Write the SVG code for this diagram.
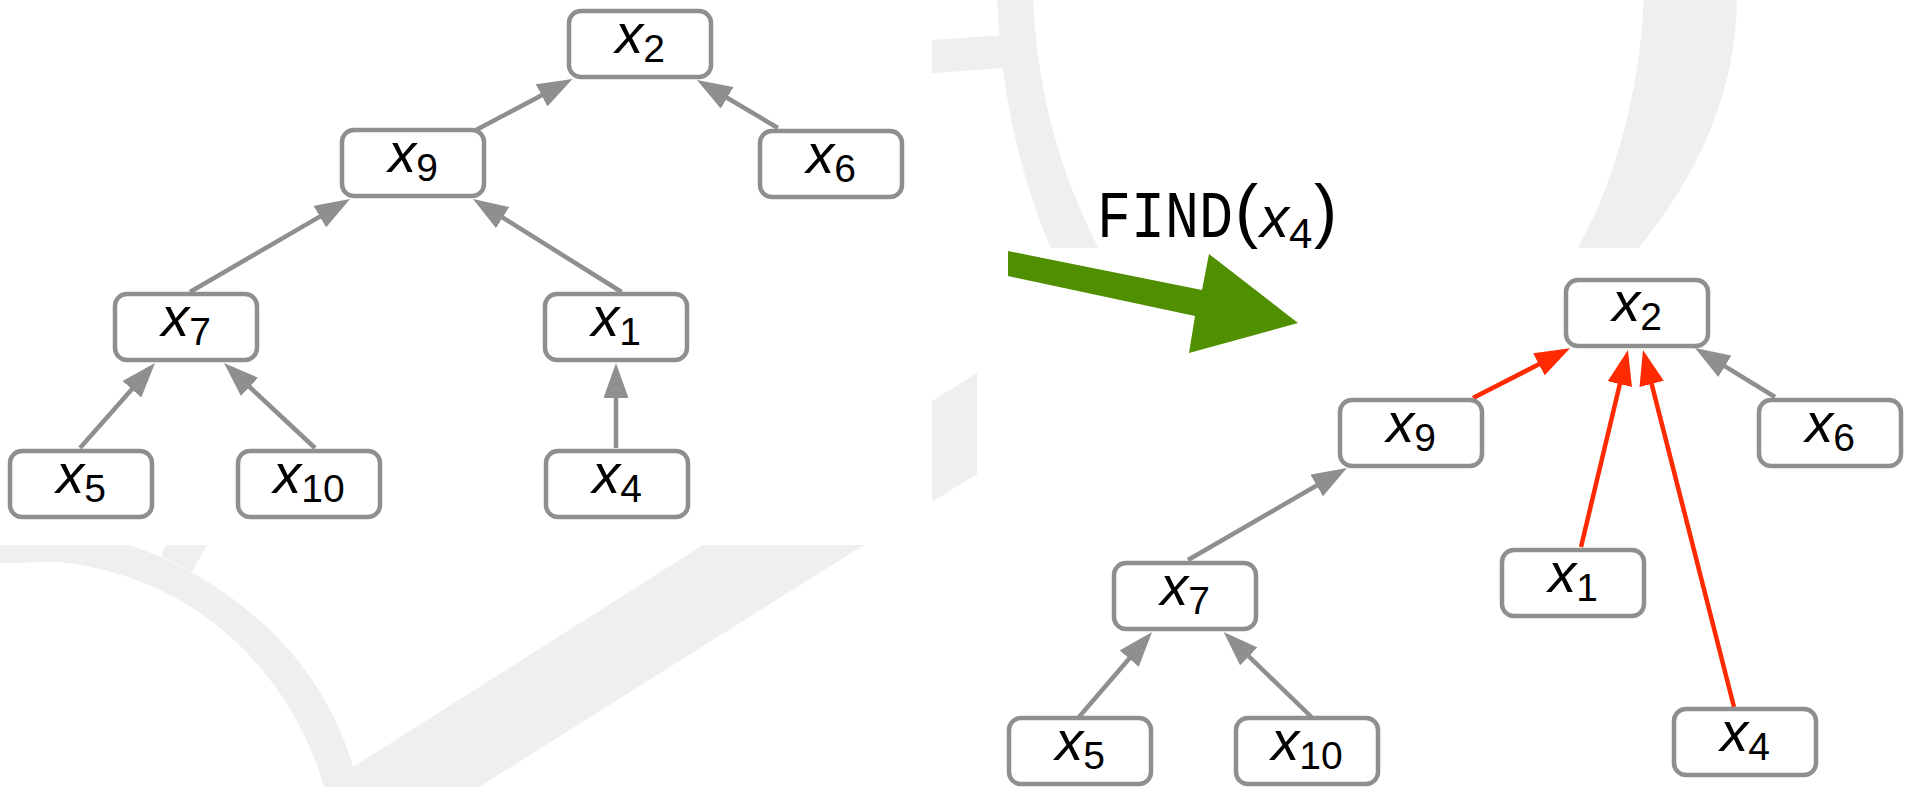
<svg xmlns="http://www.w3.org/2000/svg" width="1911" height="787" viewBox="0 0 1911 787">
<defs>
<style>
.wm{fill:#f0eeef;stroke:none}
.bg{fill:#ffffff;stroke:none}
.box{fill:#ffffff;stroke:#8f8f8f;stroke-width:4.5}
.e{fill:none;stroke:#8f8f8f;stroke-width:4.5}
.er{fill:none;stroke:#ff2a00;stroke-width:4.5}
.lbl{font-family:"Liberation Sans",Arial,sans-serif;font-size:56px;fill:#000;text-anchor:middle}
.v{font-style:italic}
.s{font-size:39px;font-style:normal}
</style>
<marker id="ag" markerUnits="userSpaceOnUse" viewBox="0 0 35 25" markerWidth="35" markerHeight="25" refX="5" refY="12.5" orient="auto"><path d="M0,0 L35,12.5 L0,25 Z" fill="#8f8f8f"/></marker>
<marker id="ar" markerUnits="userSpaceOnUse" viewBox="0 0 35 25" markerWidth="35" markerHeight="25" refX="5" refY="12.5" orient="auto"><path d="M0,0 L35,12.5 L0,25 Z" fill="#ff2a00"/></marker>
</defs>
<rect x="0" y="0" width="1911" height="787" fill="#ffffff"/>
<g id="watermark">
<path class="wm" d="M0,545 L129,545 C220,575 320,650 353,767 L703,545 L864,545 L479,787 L324,787 C300,700 220,580 60,562 L0,563 Z"/>
<path class="wm" d="M166,545 L207,545 L192,572 L161,556 Z"/>
<path class="wm" fill-rule="evenodd" d="M997,-5 C1000,80 1015,170 1060,270 L1620,270 C1700,180 1737,90 1737,-5 Z M1033,-5 C1036,80 1055,170 1110,270 L1565,270 C1610,200 1640,100 1644,-5 Z"/>
<path class="wm" d="M932,40 L1005,35 L1005,68 L932,73 Z"/>
<path class="wm" d="M932,401 L977,373 L977,474 L932,502 Z"/>
</g>
<rect class="bg" x="0" y="0" width="932" height="545"/>
<rect class="bg" x="977" y="248" width="934" height="539"/>
<g id="connectors">
<line class="e" x1="476" y1="130" x2="546" y2="93" marker-end="url(#ag)"/>
<line class="e" x1="778" y1="128" x2="722.8" y2="95.3" marker-end="url(#ag)"/>
<line class="e" x1="190" y1="292" x2="324.1" y2="214.1" marker-end="url(#ag)"/>
<line class="e" x1="621.6" y1="292" x2="498.4" y2="214.9" marker-end="url(#ag)"/>
<line class="e" x1="80" y1="448" x2="135.2" y2="385.5" marker-end="url(#ag)"/>
<line class="e" x1="315" y1="448" x2="245.9" y2="383.5" marker-end="url(#ag)"/>
<line class="e" x1="616" y1="448" x2="616" y2="393" marker-end="url(#ag)"/>
<line class="er" x1="1473" y1="398" x2="1543.3" y2="362" marker-end="url(#ar)"/>
<line class="er" x1="1581" y1="547" x2="1621" y2="379.2" marker-end="url(#ar)"/>
<line class="er" x1="1734" y1="707" x2="1650.4" y2="379.1" marker-end="url(#ar)"/>
<line class="e" x1="1775" y1="397" x2="1720.6" y2="363.7" marker-end="url(#ag)"/>
<line class="e" x1="1188" y1="560" x2="1321" y2="483" marker-end="url(#ag)"/>
<line class="e" x1="1079" y1="717" x2="1132.5" y2="654.8" marker-end="url(#ag)"/>
<line class="e" x1="1311.5" y1="717" x2="1245.2" y2="652.9" marker-end="url(#ag)"/>
</g>
<g id="L-x2"><rect class="box" x="569" y="11" width="142" height="66" rx="12"/><text class="lbl" x="640" y="52.5"><tspan class="v">x</tspan><tspan class="s" dy="9">2</tspan></text></g>
<g id="L-x9"><rect class="box" x="342" y="130" width="142" height="66" rx="12"/><text class="lbl" x="413" y="171.5"><tspan class="v">x</tspan><tspan class="s" dy="9">9</tspan></text></g>
<g id="L-x6"><rect class="box" x="760" y="131" width="142" height="66" rx="12"/><text class="lbl" x="831" y="172.5"><tspan class="v">x</tspan><tspan class="s" dy="9">6</tspan></text></g>
<g id="L-x7"><rect class="box" x="115" y="294" width="142" height="66" rx="12"/><text class="lbl" x="186" y="335.5"><tspan class="v">x</tspan><tspan class="s" dy="9">7</tspan></text></g>
<g id="L-x1"><rect class="box" x="545" y="294" width="142" height="66" rx="12"/><text class="lbl" x="616" y="335.5"><tspan class="v">x</tspan><tspan class="s" dy="9">1</tspan></text></g>
<g id="L-x5"><rect class="box" x="10" y="451" width="142" height="66" rx="12"/><text class="lbl" x="81" y="492.5"><tspan class="v">x</tspan><tspan class="s" dy="9">5</tspan></text></g>
<g id="L-x10"><rect class="box" x="238" y="451" width="142" height="66" rx="12"/><text class="lbl" x="309" y="492.5"><tspan class="v">x</tspan><tspan class="s" dy="9">10</tspan></text></g>
<g id="L-x4"><rect class="box" x="546" y="451" width="142" height="66" rx="12"/><text class="lbl" x="617" y="492.5"><tspan class="v">x</tspan><tspan class="s" dy="9">4</tspan></text></g>
<g id="R-x2"><rect class="box" x="1566" y="280" width="142" height="66" rx="12"/><text class="lbl" x="1637" y="321"><tspan class="v">x</tspan><tspan class="s" dy="9">2</tspan></text></g>
<g id="R-x9"><rect class="box" x="1340" y="400" width="142" height="66" rx="12"/><text class="lbl" x="1411" y="441.5"><tspan class="v">x</tspan><tspan class="s" dy="9">9</tspan></text></g>
<g id="R-x6"><rect class="box" x="1759" y="400" width="142" height="66" rx="12"/><text class="lbl" x="1830" y="441.5"><tspan class="v">x</tspan><tspan class="s" dy="9">6</tspan></text></g>
<g id="R-x7"><rect class="box" x="1114" y="563" width="142" height="66" rx="12"/><text class="lbl" x="1185" y="604.5"><tspan class="v">x</tspan><tspan class="s" dy="9">7</tspan></text></g>
<g id="R-x1"><rect class="box" x="1502" y="550" width="142" height="66" rx="12"/><text class="lbl" x="1573" y="591.5"><tspan class="v">x</tspan><tspan class="s" dy="9">1</tspan></text></g>
<g id="R-x5"><rect class="box" x="1009" y="718" width="142" height="66" rx="12"/><text class="lbl" x="1080" y="759.5"><tspan class="v">x</tspan><tspan class="s" dy="9">5</tspan></text></g>
<g id="R-x10"><rect class="box" x="1236" y="718" width="142" height="66" rx="12"/><text class="lbl" x="1307" y="759.5"><tspan class="v">x</tspan><tspan class="s" dy="9">10</tspan></text></g>
<g id="R-x4"><rect class="box" x="1674" y="709" width="142" height="66" rx="12"/><text class="lbl" x="1745" y="750.5"><tspan class="v">x</tspan><tspan class="s" dy="9">4</tspan></text></g>
<g id="find">
<polygon points="1008,251 1202,290 1209,254 1298,323 1189,353 1195,316 1008,276" fill="#4f8f00"/>
<text y="237" font-family="'Liberation Sans',Arial,sans-serif" font-size="58" fill="#000"><tspan x="1097" font-family="'Liberation Mono','Courier New',monospace" font-size="66" textLength="136" lengthAdjust="spacingAndGlyphs">FIND</tspan><tspan x="1235" y="233.5" font-size="69.5">(</tspan><tspan x="1260" y="237" font-style="italic">x</tspan><tspan y="248" font-size="42">4</tspan><tspan x="1314" y="233.5" font-size="69.5">)</tspan></text>
</g>
</svg>
